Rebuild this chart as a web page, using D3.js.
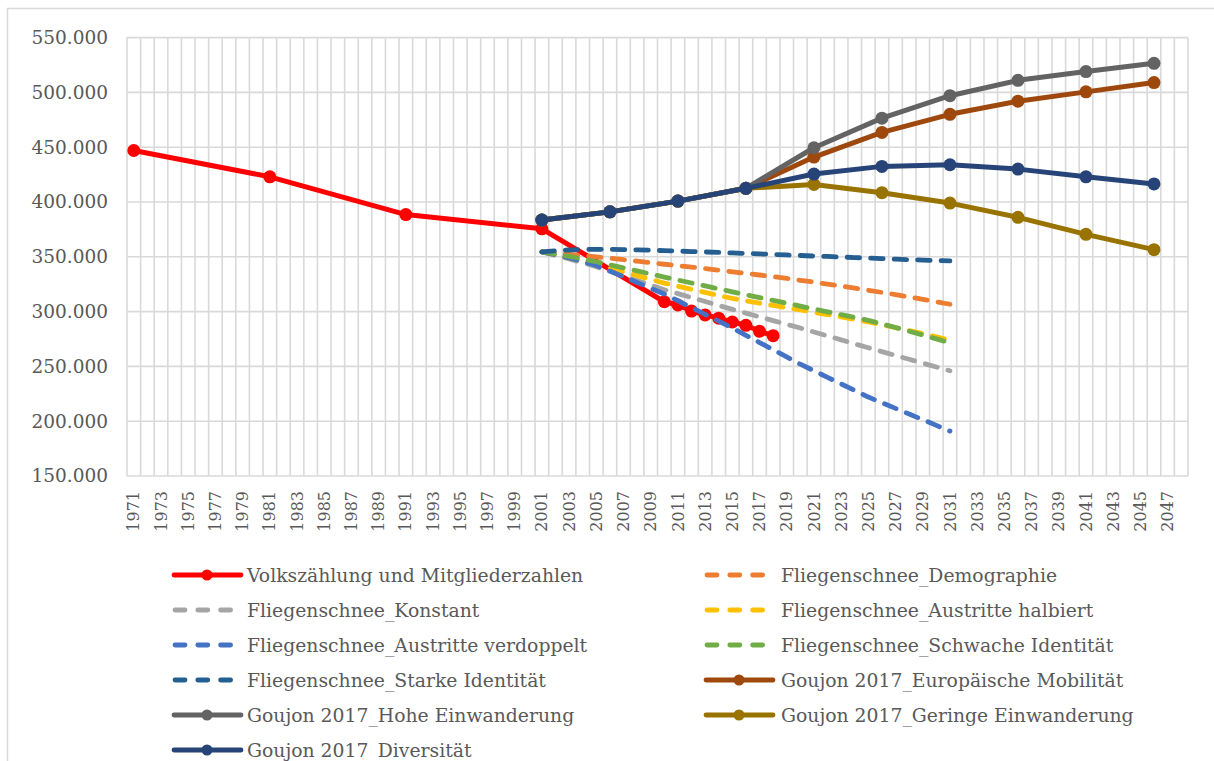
<!DOCTYPE html>
<html>
<head>
<meta charset="utf-8">
<script src="https://cdn.jsdelivr.net/npm/d3@7"></script>
<style>
  body { margin: 0; background: #fff; }
  text { font-family: "DejaVu Serif", serif; fill: #595959; }
</style>
</head>
<body>
<script>
// categories: one per year on the x axis
var years = d3.range(1971, 2049)
var yTicks = [150000, 200000, 250000, 300000, 350000, 400000, 450000, 500000, 550000]

var censusYears = [1971, 1981, 1991, 2001, 2010, 2011, 2012, 2013, 2014, 2015, 2016, 2017, 2018]
var censusValues = [447000, 423000, 388500, 375500, 309000, 306000, 300500, 297000, 294000, 290500, 287500, 282000, 278000]

var fliegenYears = d3.range(2001, 2032)
var demographie = [354500, 353500, 352300, 351200, 350000, 348700, 347400, 346000, 344600, 343200, 341900, 340600, 339200, 337800, 336300, 334900, 333400, 331900, 330300, 328600, 326900, 325100, 323300, 321400, 319500, 317500, 315500, 313400, 311200, 309000, 306700]
var konstant = [354500, 351300, 348000, 344600, 341000, 336800, 332600, 328400, 324200, 320000, 316400, 312800, 309200, 305600, 302000, 298600, 295200, 291800, 288400, 285000, 281400, 277800, 274200, 270600, 267000, 263500, 260000, 256500, 253000, 249500, 246000]
var halbiert = [354500, 351800, 349000, 346100, 343000, 339600, 336200, 332800, 329400, 326000, 323100, 320300, 317500, 314700, 312000, 309800, 307700, 305600, 303500, 301500, 299400, 297300, 295100, 292800, 290500, 288000, 285400, 282700, 279900, 277000, 274000]
var verdoppelt = [354500, 351800, 349000, 345700, 342000, 337000, 331800, 326600, 321300, 316000, 309900, 303700, 297500, 291300, 285000, 278400, 271800, 265200, 258600, 252000, 246000, 240000, 234000, 228000, 222000, 216800, 211700, 206500, 201400, 196200, 191000]
var schwach = [354500, 352500, 350300, 348000, 345500, 342700, 339900, 337100, 334300, 331500, 328800, 326100, 323400, 320700, 318000, 315400, 312800, 310200, 307600, 305000, 302400, 299800, 297200, 294600, 292000, 288800, 285500, 282100, 278600, 275100, 271500]
var stark = [354500, 355500, 356200, 356600, 356800, 356800, 356600, 356300, 356000, 355600, 355200, 354800, 354400, 354000, 353500, 353100, 352600, 352200, 351700, 351200, 350700, 350300, 349800, 349300, 348800, 348300, 347900, 347400, 347000, 346600, 346200]

var goujonYears = [2001, 2006, 2011, 2016, 2021, 2026, 2031, 2036, 2041, 2046]
var europa = [383500, 391000, 400800, 412500, 441000, 463500, 480000, 492000, 500500, 509000]
var hoch = [383500, 391000, 400800, 412500, 449500, 476500, 497000, 511000, 519000, 526500]
var gering = [383500, 391000, 400800, 412500, 416000, 408500, 399000, 386000, 370500, 356500]
var diversitaet = [383500, 391000, 400800, 412500, 425500, 432500, 434000, 430000, 423000, 416500]

var series = [
  {name: 'Volkszählung und Mitgliederzahlen', years: censusYears, values: censusValues, color: '#FF0000', dash: false},
  {name: 'Fliegenschnee_Demographie', years: fliegenYears, values: demographie, color: '#ED7D31', dash: true},
  {name: 'Fliegenschnee_Konstant', years: fliegenYears, values: konstant, color: '#A5A5A5', dash: true},
  {name: 'Fliegenschnee_Austritte halbiert', years: fliegenYears, values: halbiert, color: '#FFC000', dash: true},
  {name: 'Fliegenschnee_Austritte verdoppelt', years: fliegenYears, values: verdoppelt, color: '#4472C4', dash: true},
  {name: 'Fliegenschnee_Schwache Identität', years: fliegenYears, values: schwach, color: '#70AD47', dash: true},
  {name: 'Fliegenschnee_Starke Identität', years: fliegenYears, values: stark, color: '#255E91', dash: true},
  {name: 'Goujon 2017_Europäische Mobilität', years: goujonYears, values: europa, color: '#9E480E', dash: false},
  {name: 'Goujon 2017_Hohe Einwanderung', years: goujonYears, values: hoch, color: '#636363', dash: false},
  {name: 'Goujon 2017_Geringe Einwanderung', years: goujonYears, values: gering, color: '#997300', dash: false},
  {name: 'Goujon 2017_Diversität', years: goujonYears, values: diversitaet, color: '#264478', dash: false}
]

var W = 1214, H = 761
var plot = {left: 127, right: 1188, top: 37.6, bottom: 476}

var svg = d3.select('body').append('svg')
  .attr('width', W)
  .attr('height', H)

// outer chart frame
svg.append('rect')
  .attr('x', 7.5).attr('y', 8.5)
  .attr('width', 1240).attr('height', 800)
  .attr('fill', 'none')
  .attr('stroke', '#D9D9D9')
  .attr('stroke-width', 1.5)

var x = d3.scaleBand().domain(years).range([plot.left, plot.right]).padding(0)
var y = d3.scaleLinear().domain([150000, 550000]).range([plot.bottom, plot.top])
var cx = d => x(d) + x.bandwidth() / 2

var de = d3.formatLocale({decimal: ',', thousands: '.', grouping: [3], currency: ['', ' €']})
var fmt = de.format(',')

var grid = svg.append('g').attr('stroke', '#D9D9D9').attr('stroke-width', 1.6)
grid.selectAll('.vg')
  .data(years.concat([2049]))
  .enter().append('line')
  .attr('x1', d => d === 2049 ? plot.right : x(d))
  .attr('x2', d => d === 2049 ? plot.right : x(d))
  .attr('y1', plot.top).attr('y2', plot.bottom)
grid.selectAll('.hg')
  .data(yTicks)
  .enter().append('line')
  .attr('x1', plot.left).attr('x2', plot.right)
  .attr('y1', d => y(d)).attr('y2', d => y(d))

// y axis labels
svg.append('g').selectAll('text')
  .data(yTicks)
  .enter().append('text')
  .attr('x', 108)
  .attr('y', d => y(d))
  .attr('dy', '0.35em')
  .attr('text-anchor', 'end')
  .style('font-size', '18.5px')
  .text(d => fmt(d))

// x axis labels, every second year
var xLabels = years.filter(d => d % 2 === 1)
svg.append('g').selectAll('text')
  .data(xLabels)
  .enter().append('text')
  .attr('transform', d => `translate(${cx(d)}, 491) rotate(-90)`)
  .attr('dy', '0.35em')
  .attr('text-anchor', 'end')
  .style('font-size', '16px')
  .text(d => d)

var line = d3.line()
  .x(d => cx(d[0]))
  .y(d => y(d[1]))

var lines = svg.append('g')
series.forEach(function (s) {
  var pts = s.years.map((yr, i) => [yr, s.values[i]])
  var g = lines.append('g')
  g.append('path')
    .datum(pts)
    .attr('d', line)
    .attr('fill', 'none')
    .attr('stroke', s.color)
    .attr('stroke-width', s.dash ? 4.8 : 5)
    .attr('stroke-linejoin', 'round')
    .attr('stroke-linecap', 'round')
    .attr('stroke-dasharray', s.dash ? '12.5 11' : null)
  if (!s.dash) {
    g.selectAll('circle')
      .data(pts)
      .enter().append('circle')
      .attr('cx', d => cx(d[0]))
      .attr('cy', d => y(d[1]))
      .attr('r', 6.5)
      .attr('fill', s.color)
  }
})

// legend, two columns filled row by row
var legend = svg.append('g')
series.forEach(function (s, i) {
  var col = i % 2, row = Math.floor(i / 2)
  var lx = col === 0 ? 172 : 704
  var ly = 575 + row * 35
  var g = legend.append('g')
  g.append('line')
    .attr('x1', s.dash ? lx + 3 : lx + 2)
    .attr('x2', s.dash ? lx + 59 : lx + 69)
    .attr('y1', ly).attr('y2', ly)
    .attr('stroke', s.color)
    .attr('stroke-width', 4.8)
    .attr('stroke-linecap', 'round')
    .attr('stroke-dasharray', s.dash ? '10 12.8' : null)
  if (!s.dash) {
    g.append('circle')
      .attr('cx', lx + 35).attr('cy', ly)
      .attr('r', 5.5)
      .attr('fill', s.color)
  }
  g.append('text')
    .attr('x', col === 0 ? 247 : 781)
    .attr('y', ly)
    .attr('dy', '0.35em')
    .style('font-size', '18.8px')
    .text(s.name)
})
</script>
</body>
</html>
